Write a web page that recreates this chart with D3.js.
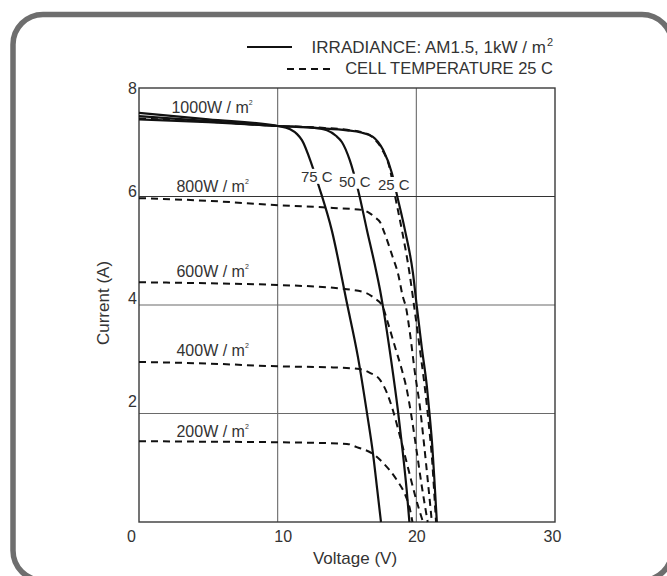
<!DOCTYPE html>
<html>
<head>
<meta charset="utf-8">
<script src="https://cdn.jsdelivr.net/npm/d3@7/dist/d3.min.js"></script>
<style>
  html, body { margin: 0; padding: 0; background: #fff; }
  svg { display: block; }
  text { font-family: "Liberation Sans", Arial, sans-serif; fill: #333; }
</style>
</head>
<body>
<svg id="chart" width="667" height="576"></svg>
<script>
// ---------- data ----------
const xTicks = [0, 10, 20, 30];
const yTicks = [2, 4, 6, 8];
const xTitle = "Voltage (V)";
const yTitle = "Current (A)";
const legendLabels = ["IRRADIANCE: AM1.5, 1kW / m", "CELL TEMPERATURE 25 C"];

// solid: 1000 W/m² at three cell temperatures  [V, I]
const temp25 = [[0,7.42],[5,7.37],[10,7.30],[13,7.26],[15,7.22],[16,7.18],[16.87,7.10],[17.6,6.86],[18.24,6.43],[18.6,6.03],[19.18,5.38],[19.75,4.6],[20.04,3.96],[20.4,3.2],[20.76,2.5],[20.95,2.0],[21.15,1.4],[21.32,0.7],[21.48,0]];
const temp50 = [[0,7.48],[5,7.39],[10,7.30],[12.5,7.27],[13.55,7.22],[14.2,7.12],[14.64,7.0],[15.2,6.67],[15.8,6.12],[16.44,5.38],[17.0,4.75],[17.38,4.28],[17.6,3.96],[18.2,2.95],[18.67,2.06],[19.03,1.27],[19.3,0.6],[19.5,0]];
const temp75 = [[0,7.54],[5,7.42],[10,7.30],[10.9,7.24],[11.4,7.15],[11.75,7.04],[12.47,6.58],[12.98,6.18],[13.9,5.38],[14.99,4.04],[15.79,3.04],[16.44,2.01],[16.87,1.27],[17.17,0.62],[17.45,0]];
const tempNames = ["25 C", "50 C", "75 C"];

// dashed: 25 C cell temperature at five irradiances  [V, I]
const irr1000 = [[0,7.44],[5,7.38],[10,7.30],[13,7.27],[15,7.23],[16,7.19],[16.8,7.1],[17.5,6.88],[18.1,6.5],[18.45,6.03],[18.96,5.38],[19.5,4.6],[19.85,3.96],[20.3,3.1],[20.65,2.4],[20.9,1.8],[21.15,1.1],[21.3,0.5],[21.42,0]];
const irr800 = [[0,5.97],[5,5.92],[10,5.84],[14,5.79],[16.15,5.75],[16.65,5.69],[17.0,5.62],[17.4,5.52],[17.7,5.33],[18.3,4.88],[18.67,4.59],[19.03,4.15],[19.25,3.96],[19.54,3.48],[19.9,2.75],[20.26,2.12],[20.55,1.45],[20.85,0.7],[21.12,0]];
const irr600 = [[0,4.42],[5,4.40],[10,4.37],[15,4.29],[16.4,4.22],[17.0,4.12],[17.52,4.0],[17.95,3.67],[18.46,3.23],[18.96,2.80],[19.32,2.43],[19.54,2.12],[20.0,1.35],[20.4,0.65],[20.82,0]];
const irr400 = [[0,2.95],[5,2.92],[10,2.87],[14,2.85],[15.9,2.82],[16.65,2.75],[17.38,2.62],[17.88,2.38],[18.31,2.06],[18.9,1.5],[19.45,0.95],[19.95,0.45],[20.48,0]];
const irr200 = [[0,1.49],[5,1.48],[10,1.47],[15,1.44],[15.7,1.38],[16.9,1.25],[17.6,1.09],[18.6,0.77],[19.2,0.5],[19.5,0.28],[19.72,0]];
const irrNames = ["1000W / m", "800W / m", "600W / m", "400W / m", "200W / m"];

// ---------- layout ----------
const svg = d3.select("#chart");
const plot = { left: 139, right: 555, top: 88, bottom: 522 };
const x = d3.scaleLinear().domain([0, 30]).range([plot.left, plot.right]);
const y = d3.scaleLinear().domain([0, 8]).range([plot.bottom, plot.top]);

// frame
svg.append("rect")
  .attr("x", 13).attr("y", 14.5).attr("width", 659).attr("height", 566)
  .attr("rx", 30).attr("ry", 30)
  .attr("fill", "none").attr("stroke", "#6e6e6e").attr("stroke-width", 5.5);

// grid
const grid = svg.append("g");
grid.selectAll("line.v").data(xTicks.filter(d => d > 0 && d < 30)).enter().append("line")
  .attr("x1", d => x(d)).attr("x2", d => x(d))
  .attr("y1", y(0)).attr("y2", y(8))
  .attr("stroke", "#6a6a6a").attr("stroke-width", 1.1);
grid.selectAll("line.h").data(yTicks.filter(d => d < 8)).enter().append("line")
  .attr("x1", x(0)).attr("x2", x(30))
  .attr("y1", d => y(d)).attr("y2", d => y(d))
  .attr("stroke", d => d === 6 ? "#333" : "#6a6a6a").attr("stroke-width", 1.1);

// plot border
svg.append("rect")
  .attr("x", x(0)).attr("y", y(8))
  .attr("width", x(30) - x(0)).attr("height", y(0) - y(8))
  .attr("fill", "none").attr("stroke", "#3a3a3a").attr("stroke-width", 1.4);

// axes labels via d3 axes
const xAxis = svg.append("g").attr("transform", `translate(0,${plot.bottom})`)
  .call(d3.axisBottom(x).tickValues(xTicks).tickSize(0).tickPadding(0).tickFormat(d3.format("d")));
xAxis.select(".domain").remove();
const xDx = { 0: -8, 10: 5, 20: 0, 30: -3 };
xAxis.selectAll("text")
  .attr("y", 20).attr("dy", 0)
  .attr("dx", d => xDx[d])
  .style("font-size", "16px").style("font-family", "'Liberation Sans', Arial, sans-serif").attr("fill", "#333");

const yAxis = svg.append("g").attr("transform", `translate(${plot.left},0)`)
  .call(d3.axisLeft(y).tickValues(yTicks).tickSize(0).tickPadding(2).tickFormat(d3.format("d")));
yAxis.select(".domain").remove();
const yDy = { 2: -7, 4: -2, 6: 0, 8: 5 };
yAxis.selectAll("text")
  .attr("dy", d => yDy[d])
  .style("font-size", "16px").style("font-family", "'Liberation Sans', Arial, sans-serif").attr("fill", "#333");

svg.append("text").attr("x", 355).attr("y", 564).attr("text-anchor", "middle")
  .style("font-size", "17px").text(xTitle);
svg.append("text").attr("transform", "translate(109,303) rotate(-90)").attr("text-anchor", "middle")
  .style("font-size", "17px").text(yTitle);

// curves
const line = d3.line().x(d => x(d[0])).y(d => y(d[1])).curve(d3.curveMonotoneX);
const curves = svg.append("g");
[irr1000, irr800, irr600, irr400, irr200].forEach(s => {
  curves.append("path").attr("d", line(s)).attr("fill", "none")
    .attr("stroke", "#111").attr("stroke-width", 2).attr("stroke-dasharray", "7,5");
});
[temp25, temp50, temp75].forEach(s => {
  curves.append("path").attr("d", line(s)).attr("fill", "none")
    .attr("stroke", "#111").attr("stroke-width", 2.2);
});

// temperature labels (white box hides curve behind)
const tempLabelPos = [[17.23, 6.12], [14.42, 6.18], [11.68, 6.27]];
tempNames.forEach((t, i) => {
  const g = svg.append("g");
  const tx = g.append("text").attr("x", x(tempLabelPos[i][0])).attr("y", y(tempLabelPos[i][1]))
    .style("font-size", "15px").text(t);
  const b = tx.node().getBBox();
  g.insert("rect", "text").attr("x", b.x - 1).attr("y", b.y + 1).attr("width", b.width + 2).attr("height", b.height - 2)
    .attr("fill", "#fff");
});

// irradiance labels
const irrStart = [irr1000, irr800, irr600, irr400, irr200].map(s => s[0][1]);
const irrDy = [-5, -6, -5, -6, -4];
const irrDx = [-5, 0, 0, 0, 0];
irrNames.forEach((t, i) => {
  const tx = svg.append("text").attr("x", x(2.7) + irrDx[i]).attr("y", y(irrStart[i]) + irrDy[i])
    .style("font-size", "16px");
  tx.append("tspan").text(t);
  tx.append("tspan").attr("dy", -8).style("font-size", "7px").text("2");
});

// legend
const lg = svg.append("g");
lg.append("line").attr("x1", 247).attr("x2", 292).attr("y1", 47).attr("y2", 47)
  .attr("stroke", "#111").attr("stroke-width", 2.2);
lg.append("line").attr("x1", 287).attr("x2", 332).attr("y1", 69).attr("y2", 69)
  .attr("stroke", "#111").attr("stroke-width", 2).attr("stroke-dasharray", "7,5");
const l1 = lg.append("text").attr("x", 553).attr("y", 53).attr("text-anchor", "end")
  .style("font-size", "17px");
l1.append("tspan").text(legendLabels[0]);
l1.append("tspan").attr("dy", -7).attr("dx", 1).style("font-size", "11px").text("2");
lg.append("text").attr("x", 553).attr("y", 74).attr("text-anchor", "end")
  .style("font-size", "16.5px").text(legendLabels[1]);
</script>
</body>
</html>
